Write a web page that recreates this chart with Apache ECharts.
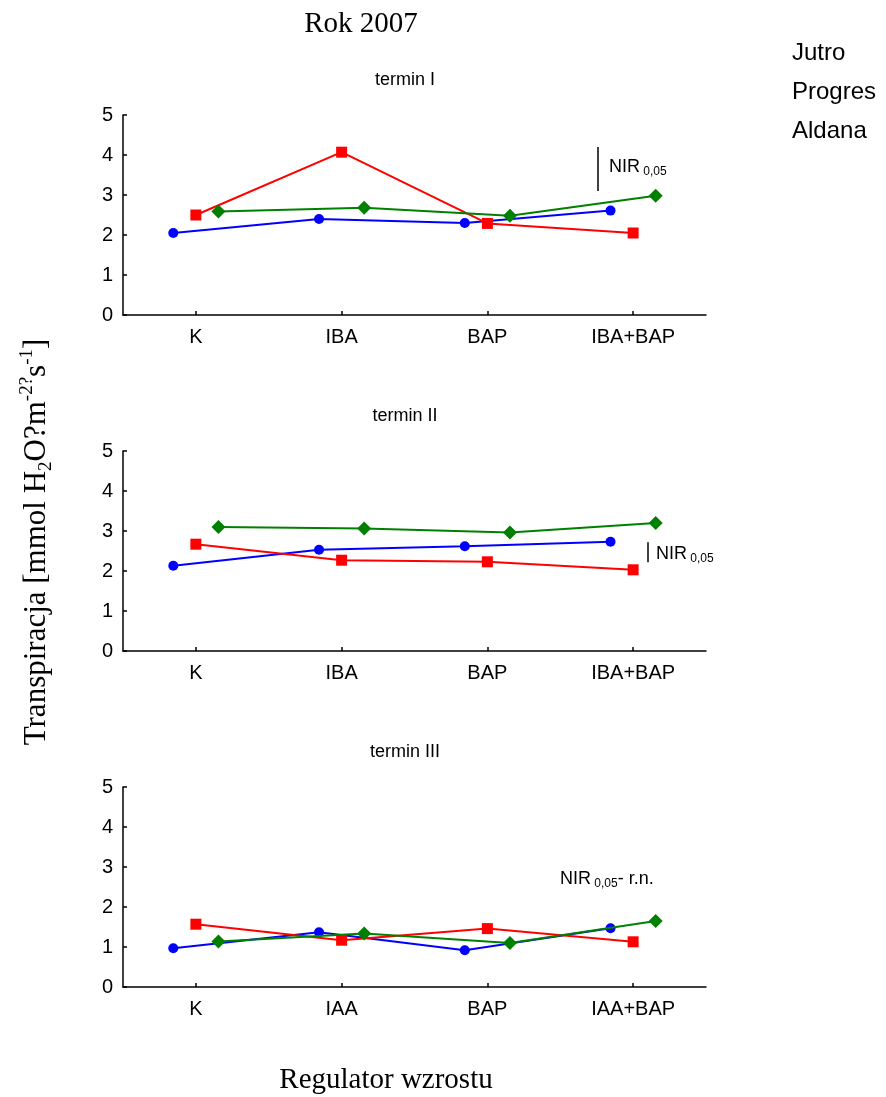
<!DOCTYPE html>
<html>
<head>
<meta charset="utf-8">
<script src="https://cdn.jsdelivr.net/npm/echarts@6/dist/echarts.min.js"></script>
<style>
  html, body { margin: 0; padding: 0; background: #fff; }
  #chart { width: 886px; height: 1097px; }
</style>
</head>
<body>
<div id="chart"></div>
<script>
// Cultivars (legend order) and treatments
const seriesNames = ['Jutro', 'Progres', 'Aldana'];
const categoriesIBA = ['K', 'IBA', 'BAP', 'IBA+BAP'];
const categoriesIAA = ['K', 'IAA', 'BAP', 'IAA+BAP'];
const panelTitles = ['termin I', 'termin II', 'termin III'];

// Transpiration, termin I
const jutro1   = [2.05, 2.40, 2.30, 2.61];
const progres1 = [2.50, 4.07, 2.29, 2.05];
const aldana1  = [2.59, 2.68, 2.48, 2.98];
// termin II
const jutro2   = [2.13, 2.53, 2.62, 2.73];
const progres2 = [2.67, 2.27, 2.23, 2.03];
const aldana2  = [3.10, 3.06, 2.96, 3.20];
// termin III
const jutro3   = [0.97, 1.37, 0.92, 1.47];
const progres3 = [1.57, 1.17, 1.46, 1.13];
const aldana3  = [1.14, 1.34, 1.10, 1.65];

// LSD (NIR 0.05) for termin I and II; termin III not significant
const nirValues = [1.1, 0.5];

const SANS = 'Liberation Sans, Arial, sans-serif';
const SERIF = 'Liberation Serif, Times New Roman, serif';

const panels = [
  { cats: categoriesIBA, values: [jutro1, progres1, aldana1], top: 115 },
  { cats: categoriesIBA, values: [jutro2, progres2, aldana2], top: 451 },
  { cats: categoriesIAA, values: [jutro3, progres3, aldana3], top: 787 }
];

// Horizontal shift of each cultivar within a treatment (in category units)
const shifts = [-0.155, 0, 0.155];
const colors = ['#0000ff', '#ff0000', '#008000'];
const symbols = ['circle', 'rect', 'diamond'];
const symbolSizes = [10, 11, 14];

// Where the NIR bar sits: x in category units, lower end in y units
const nirPlacement = [
  { x: 2.76, base: 3.10 },
  { x: 3.10, base: 2.22 }
];

const grids = [], xAxes = [], yAxes = [], series = [];

panels.forEach((p, pi) => {
  grids.push({ left: 123, right: 180, top: p.top, height: 200, containLabel: false });

  // visible category axis: labels and ticks at treatment centres
  xAxes.push({
    type: 'category', gridIndex: pi, data: p.cats, boundaryGap: true,
    axisLine: { onZero: false, lineStyle: { color: '#000', width: 1.5 } },
    axisTick: { show: true, inside: true, length: 4, alignWithLabel: true, lineStyle: { color: '#000', width: 1.5 } },
    axisLabel: { color: '#000', fontSize: 20, fontFamily: SANS, margin: 12 },
    splitLine: { show: false }
  });
  // hidden value axis spanning the same bands, used to place shifted points
  xAxes.push({
    type: 'value', gridIndex: pi, min: -0.5, max: 3.5, show: false,
    axisLine: { onZero: false },
    splitLine: { show: false }
  });

  yAxes.push({
    type: 'value', gridIndex: pi, min: 0, max: 5, interval: 1, position: 'left',
    axisLine: { show: true, onZero: false, lineStyle: { color: '#000', width: 1.5 } },
    axisTick: { show: true, inside: true, length: 4, lineStyle: { color: '#000', width: 1.5 } },
    axisLabel: { color: '#000', fontSize: 20, fontFamily: SANS, margin: 10 },
    splitLine: { show: false }
  });

  p.values.forEach((vals, si) => {
    const s = {
      type: 'line',
      name: seriesNames[si],
      xAxisIndex: 2 * pi + 1,
      yAxisIndex: pi,
      data: vals.map((v, i) => [i + shifts[si], v]),
      symbol: symbols[si],
      symbolSize: symbolSizes[si],
      showAllSymbol: true,
      itemStyle: { color: colors[si] },
      lineStyle: { color: colors[si], width: 2 },
      emphasis: { disabled: true },
      z: 2 + si
    };
    if (si === 0 && pi < nirValues.length) {
      const np = nirPlacement[pi];
      s.markLine = {
        silent: true,
        symbol: 'none',
        label: { show: false },
        lineStyle: { color: '#000', width: 1.5, type: 'solid' },
        data: [[{ coord: [np.x, np.base] }, { coord: [np.x, np.base + nirValues[pi]] }]]
      };
    }
    series.push(s);
  });
});

const titles = [
  { text: 'Rok 2007', left: 361, top: 10, textAlign: 'center', padding: 0,
    textStyle: { fontFamily: SERIF, fontSize: 29, fontWeight: 'normal', color: '#000' } }
];
panels.forEach((p, pi) => {
  titles.push({
    text: panelTitles[pi], left: 405, top: p.top - 44, textAlign: 'center', padding: 0,
    textStyle: { fontFamily: SANS, fontSize: 18, fontWeight: 'normal', color: '#000' }
  });
});

const nirRich = {
  n: { fontFamily: SANS, fontSize: 18, lineHeight: 22, color: '#000' },
  s: { fontFamily: SANS, fontSize: 12, lineHeight: 12, verticalAlign: 'bottom', color: '#000' }
};

function nirText(x, y, text) {
  return {
    type: 'text', x: x, y: y, silent: true,
    style: {
      text: text, rich: nirRich,
      align: 'left', verticalAlign: 'middle',
      textAlign: 'left', textVerticalAlign: 'middle'
    }
  };
}

const option = {
  animation: false,
  backgroundColor: '#fff',
  title: titles,
  legend: {
    orient: 'vertical', left: 782, top: 35,
    icon: 'none', itemWidth: 0, itemHeight: 26, itemGap: 13,
    selectedMode: false,
    data: seriesNames,
    textStyle: { fontFamily: SANS, fontSize: 24, color: '#000', lineHeight: 26 }
  },
  grid: grids,
  xAxis: xAxes,
  yAxis: yAxes,
  series: series,
  graphic: [
    {
      type: 'text', x: 37, y: 542, rotation: Math.PI / 2, silent: true,
      style: {
        text: 'Transpiracja [mmol H{sub|2}O?m{sup|-2?}s{sup|-1}]',
        fontFamily: SERIF, fontSize: 31, lineHeight: 38, fill: '#000',
        align: 'center', verticalAlign: 'middle',
        textAlign: 'center', textVerticalAlign: 'middle',
        rich: {
          sub: { fontFamily: SERIF, fontSize: 19, lineHeight: 19, verticalAlign: 'bottom' },
          sup: { fontFamily: SERIF, fontSize: 19, lineHeight: 19, verticalAlign: 'top' }
        }
      }
    },
    {
      type: 'text', x: 386, y: 1080, silent: true,
      style: {
        text: 'Regulator wzrostu', fontFamily: SERIF, fontSize: 29, fill: '#000',
        align: 'center', verticalAlign: 'middle',
        textAlign: 'center', textVerticalAlign: 'middle'
      }
    },
    nirText(609, 167, '{n|NIR} {s|0,05}'),
    nirText(656, 554, '{n|NIR} {s|0,05}'),
    nirText(560, 879, '{n|NIR} {s|0,05}{n|- r.n.}')
  ]
};

const chart = echarts.init(document.getElementById('chart'), null, { renderer: 'canvas' });
chart.setOption(option);
</script>
</body>
</html>
